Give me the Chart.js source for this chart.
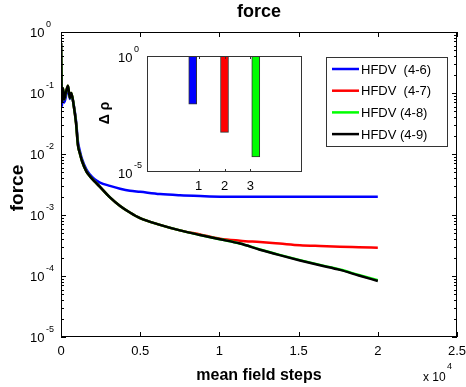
<!DOCTYPE html>
<html>
<head>
<meta charset="utf-8">
<script src="https://cdn.jsdelivr.net/npm/chart.js@4.4.1/dist/chart.umd.min.js"></script>
<style>
  html, body { margin: 0; padding: 0; background: #fff; }
  #wrap { position: relative; width: 466px; height: 387px; }
  #wrap canvas { position: absolute; left: 0; top: 0; }
</style>
</head>
<body>
<div id="wrap">
  <canvas id="main" width="466" height="387"></canvas>
  <canvas id="inset" width="466" height="387"></canvas>
</div>
<script>
// mean field steps (x axis)
const steps = [0, 60, 130, 200, 300, 440, 560, 650, 800, 950, 1070, 1200, 1330, 1600, 1830, 2100, 2460,
  3090, 3730, 4350, 4990, 6250, 7510, 8780, 10040, 11300, 12560, 13800, 15090, 16350, 17610, 18800, 20000];

// force values per run
const hfdv46 = [0.66, 0.06, 0.11, 0.07, 0.085, 0.125, 0.08, 0.095, 0.065, 0.035, 0.016, 0.011, 0.0082, 0.0056,
  0.0046, 0.0039, 0.0034, 0.003, 0.0027, 0.0025, 0.0024, 0.0022, 0.0021, 0.00204, 0.002, 0.002, 0.002, 0.002,
  0.002, 0.002, 0.002, 0.002, 0.002];
const hfdv47 = [0.66, 0.071, 0.12, 0.079, 0.1, 0.132, 0.083, 0.1, 0.063, 0.032, 0.014, 0.01, 0.0076, 0.0052,
  0.0043, 0.0036, 0.0029, 0.00195, 0.00141, 0.0011, 0.00089, 0.00069, 0.00056, 0.00048, 0.00041, 0.00038,
  0.00036, 0.00034, 0.00032, 0.00031, 0.000302, 0.000296, 0.00029];
const hfdv48 = [0.66, 0.071, 0.12, 0.079, 0.1, 0.132, 0.083, 0.1, 0.063, 0.032, 0.014, 0.01, 0.0076, 0.0052,
  0.0043, 0.0036, 0.0029, 0.00195, 0.00141, 0.0011, 0.00089, 0.00069, 0.00056, 0.00047, 0.0004, 0.000342,
  0.000272, 0.000222, 0.000182, 0.000152, 0.000128, 0.000104, 0.000085];
const hfdv49 = [0.66, 0.071, 0.12, 0.079, 0.1, 0.132, 0.083, 0.1, 0.063, 0.032, 0.014, 0.01, 0.0076, 0.0052,
  0.0043, 0.0036, 0.0029, 0.00195, 0.00141, 0.0011, 0.00089, 0.00069, 0.00056, 0.00047, 0.0004, 0.00034,
  0.00027, 0.00022, 0.00018, 0.00015, 0.000126, 0.000102, 0.000083];

const seriesNames = ['HFDV  (4-6)', 'HFDV  (4-7)', 'HFDV (4-8)', 'HFDV (4-9)'];
const seriesColors = ['#0000ff', '#ff0000', '#00ff00', '#000000'];

// axis ticks
const xTickValues = [0, 5000, 10000, 15000, 20000, 25000];
const xTickLabels = ['0', '0.5', '1', '1.5', '2', '2.5'];
const yTickExps = [0, -1, -2, -3, -4, -5];

// inset: delta rho per run
const insetPos = [0.77, 2.0, 3.21];
const insetVals = [0.0083, 0.00051, 0.000045];
const insetColors = ['#0000ff', '#ff0000', '#00ff00'];
const insetTickValues = [1, 2, 3];
const insetYExps = [0, -5];

const FONT = 'Arial, "Liberation Sans", Helvetica, sans-serif';

function drawPow(ctx, x, y, exp) {
  // "10" left aligned at x, vertically centred at y, exponent raised
  ctx.textAlign = 'left';
  ctx.textBaseline = 'middle';
  ctx.font = '13px ' + FONT;
  ctx.fillText('10', x, y);
  const w = ctx.measureText('10').width;
  ctx.font = '9px ' + FONT;
  ctx.fillText(String(exp), x + w + 1.5, y - 8);
}

const mainDecor = {
  id: 'mainDecor',
  afterDraw(chart) {
    const ctx = chart.ctx, a = chart.chartArea;
    const xs = chart.scales.x, ys = chart.scales.y;
    ctx.save();
    ctx.strokeStyle = '#000';
    ctx.lineWidth = 1;
    ctx.strokeRect(a.left + 0.5, a.top + 0.5, a.right - a.left - 1, a.bottom - a.top - 1);

    // tick marks inside the box
    ctx.beginPath();
    xTickValues.forEach(v => {
      const px = Math.round(xs.getPixelForValue(v)) + 0.5;
      ctx.moveTo(px, a.bottom); ctx.lineTo(px, a.bottom - 5);
      ctx.moveTo(px, a.top); ctx.lineTo(px, a.top + 5);
    });
    for (let e = -5; e <= 0; e++) {
      for (let m = 1; m <= 9; m++) {
        const v = m * Math.pow(10, e);
        if (v > 1) break;
        const py = Math.round(ys.getPixelForValue(v)) + 0.5;
        const len = m === 1 ? 5 : 3;
        ctx.moveTo(a.left, py); ctx.lineTo(a.left + len, py);
        ctx.moveTo(a.right, py); ctx.lineTo(a.right - len, py);
      }
    }
    ctx.stroke();

    // tick labels
    ctx.fillStyle = '#000';
    ctx.font = '13px ' + FONT;
    ctx.textAlign = 'center';
    ctx.textBaseline = 'middle';
    xTickValues.forEach((v, i) => {
      ctx.fillText(xTickLabels[i], xs.getPixelForValue(v), a.bottom + 14);
    });
    yTickExps.forEach(e => {
      drawPow(ctx, 30, ys.getPixelForValue(Math.pow(10, e)) + 1, e);
    });

    // titles
    ctx.textAlign = 'center';
    ctx.font = 'bold 18px ' + FONT;
    ctx.fillText('force', (a.left + a.right) / 2, 12);
    ctx.font = 'bold 16px ' + FONT;
    ctx.fillText('mean field steps', (a.left + a.right) / 2, 376);
    ctx.save();
    ctx.translate(18, 188);
    ctx.rotate(-Math.PI / 2);
    ctx.font = 'bold 19px ' + FONT;
    ctx.fillText('force', 0, 0);
    ctx.restore();

    // x 10^4 multiplier
    ctx.font = '12px ' + FONT;
    ctx.textAlign = 'left';
    ctx.fillText('x 10', 423, 378);
    ctx.font = '9px ' + FONT;
    ctx.fillText('4', 447, 367);

    // legend
    const lx = 326.5, ly = 57.5, lw = 121, lh = 89;
    ctx.fillStyle = '#fff';
    ctx.fillRect(lx, ly, lw, lh);
    ctx.strokeStyle = '#333';
    ctx.strokeRect(lx, ly, lw, lh);
    ctx.font = '13px ' + FONT;
    ctx.textBaseline = 'middle';
    seriesNames.forEach((name, i) => {
      const yy = 69 + i * 21.7;
      ctx.strokeStyle = seriesColors[i];
      ctx.lineWidth = 2.5;
      ctx.beginPath();
      ctx.moveTo(332, yy); ctx.lineTo(359, yy);
      ctx.stroke();
      ctx.fillStyle = '#000';
      ctx.fillText(name, 361, yy + 1);
    });
    ctx.restore();
  }
};

// later runs drawn on top (black last)
const lineSets = [hfdv46, hfdv47, hfdv48, hfdv49].map((vals, i) => ({
  label: seriesNames[i],
  data: steps.map((s, j) => ({ x: s, y: vals[j] })),
  borderColor: seriesColors[i],
  borderWidth: 2.5,
  pointRadius: 0,
  fill: false,
  order: 3 - i,
  cubicInterpolationMode: 'monotone'
}));

new Chart(document.getElementById('main'), {
  type: 'line',
  data: { datasets: lineSets },
  options: {
    responsive: false,
    devicePixelRatio: 1,
    animation: false,
    layout: { padding: { left: 61, top: 32, right: 9, bottom: 50 } },
    plugins: { legend: { display: false }, tooltip: { enabled: false } },
    scales: {
      x: { type: 'linear', min: 0, max: 25000, display: false },
      y: { type: 'logarithmic', min: 1e-5, max: 1, display: false }
    }
  },
  plugins: [mainDecor]
});

const insetDecor = {
  id: 'insetDecor',
  beforeDatasetsDraw(chart) {
    const ctx = chart.ctx, a = chart.chartArea;
    ctx.save();
    ctx.fillStyle = '#fff';
    ctx.fillRect(a.left, a.top, a.right - a.left, a.bottom - a.top);
    ctx.restore();
  },
  afterDraw(chart) {
    const ctx = chart.ctx, a = chart.chartArea;
    const xs = chart.scales.x, ys = chart.scales.y;
    ctx.save();
    ctx.strokeStyle = '#333';
    ctx.lineWidth = 1;
    ctx.strokeRect(a.left + 0.5, a.top + 0.5, a.right - a.left - 1, a.bottom - a.top - 1);
    ctx.beginPath();
    insetTickValues.forEach(v => {
      const px = Math.round(xs.getPixelForValue(v)) + 0.5;
      ctx.moveTo(px, a.bottom); ctx.lineTo(px, a.bottom - 3);
      ctx.moveTo(px, a.top); ctx.lineTo(px, a.top + 3);
    });
    ctx.stroke();

    ctx.fillStyle = '#000';
    ctx.font = '13px ' + FONT;
    ctx.textAlign = 'center';
    ctx.textBaseline = 'middle';
    insetTickValues.forEach(v => {
      ctx.fillText(String(v), xs.getPixelForValue(v), a.bottom + 14);
    });
    insetYExps.forEach(e => {
      drawPow(ctx, 118, ys.getPixelForValue(Math.pow(10, e)) + 2, e);
    });

    ctx.font = 'bold 14px ' + FONT;
    ctx.textAlign = 'center';
    ctx.save();
    ctx.translate(105, 113);
    ctx.rotate(-Math.PI / 2);
    ctx.fillText('\u0394 \u03c1', 0, 0);
    ctx.restore();
    ctx.restore();
  }
};

new Chart(document.getElementById('inset'), {
  type: 'bar',
  data: {
    datasets: [{
      data: insetPos.map((p, i) => ({ x: p, y: [1, insetVals[i]] })),
      backgroundColor: insetColors,
      borderColor: '#333',
      borderWidth: 1,
      borderSkipped: false,
      barThickness: 8
    }]
  },
  options: {
    responsive: false,
    devicePixelRatio: 1,
    animation: false,
    layout: { padding: { left: 147, top: 56, right: 164, bottom: 215 } },
    plugins: { legend: { display: false }, tooltip: { enabled: false } },
    scales: {
      x: { type: 'linear', min: 0, max: 4, display: false },
      y: { type: 'logarithmic', min: 1e-5, max: 1, display: false }
    }
  },
  plugins: [insetDecor]
});
</script>
</body>
</html>
